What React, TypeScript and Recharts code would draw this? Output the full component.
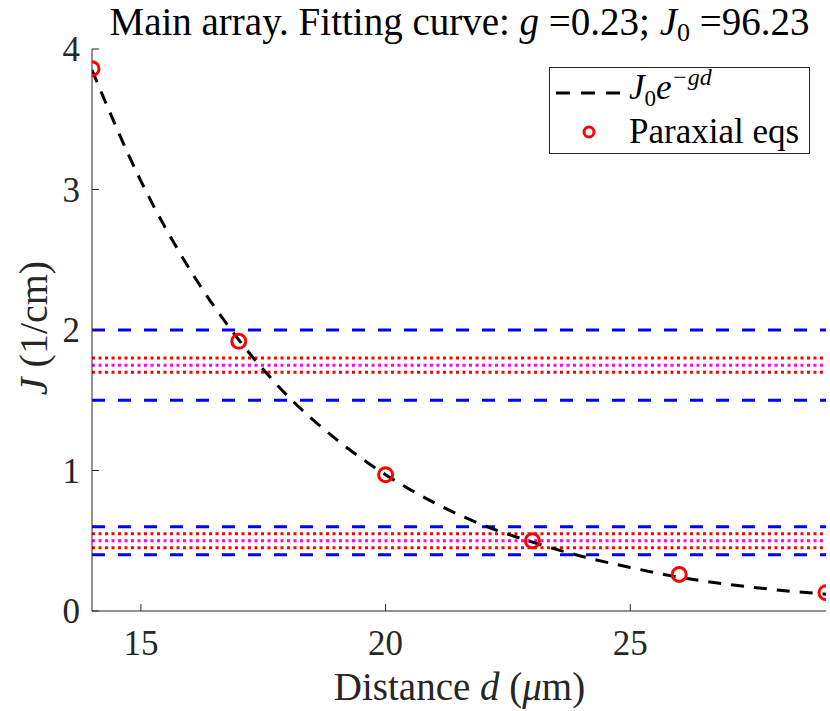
import {
  ComposedChart,
  Line,
  Scatter,
  XAxis,
  YAxis,
  ReferenceLine,
  Legend,
} from "recharts";

// fitted curve J0*exp(-g d)
const fitD = [14, 15, 16, 17, 18, 19, 20, 21, 22, 23, 24, 25, 26, 27, 28, 29];
const fitJ = [3.85, 3.06, 2.43, 1.93, 1.53, 1.22, 0.97, 0.77, 0.61, 0.49, 0.39, 0.31, 0.24, 0.19, 0.15, 0.12];

// paraxial equations points
const paraD = [14, 17, 20, 23, 26, 29];
const paraJ = [3.86, 1.92, 0.97, 0.5, 0.26, 0.13];

// horizontal bands
const blueLevels = [2.0, 1.5, 0.6, 0.4];
const redLevels = [1.8, 1.7, 0.55, 0.45];
const magentaLevels = [1.75, 0.5];

const xTicks = [15, 20, 25];
const yTicks = [0, 1, 2, 3, 4];

const fitData = fitD.map((d, i) => ({ d, J: fitJ[i] }));
const paraData = paraD.map((d, i) => ({ d, J: paraJ[i] }));

const FONT = "Liberation Serif, Times New Roman, DejaVu Serif, serif";
const AX = "#262626";
const TICK_LEN = 7;

const BottomTick = (props: any) => {
  const { x, y, payload } = props;
  return (
    <g>
      <line x1={x} y1={y} x2={x} y2={y - TICK_LEN} stroke={AX} strokeWidth={1} />
      <text x={x} y={y + 44} textAnchor="middle" fontFamily={FONT} fontSize={35} fill={AX}>
        {payload.value}
      </text>
    </g>
  );
};

const TopTick = (props: any) => {
  const { x, y } = props;
  return <line x1={x} y1={y} x2={x} y2={y + TICK_LEN} stroke={AX} strokeWidth={1} />;
};

const LeftTick = (props: any) => {
  const { x, y, payload } = props;
  return (
    <g>
      <line x1={x} y1={y} x2={x + TICK_LEN} y2={y} stroke={AX} strokeWidth={1} />
      <text x={x - 12} y={y + 12} textAnchor="end" fontFamily={FONT} fontSize={35} fill={AX}>
        {payload.value}
      </text>
    </g>
  );
};

const RightTick = (props: any) => {
  const { x, y } = props;
  return <line x1={x} y1={y} x2={x - TICK_LEN} y2={y} stroke={AX} strokeWidth={1} />;
};

const LegendBox = () => (
  <div
    style={{
      width: 261,
      height: 87,
      border: `1px solid ${AX}`,
      background: "#fff",
      boxSizing: "border-box",
      fontFamily: FONT,
      fontSize: 35,
      lineHeight: "40px",
      color: "#000",
      position: "relative",
    }}
  >
    <svg width={80} height={87} style={{ position: "absolute", left: 0, top: 0 }}>
      <line x1={6} y1={25} x2={71} y2={25} stroke="#000" strokeWidth={3} strokeDasharray="14 11" />
      <circle cx={39} cy={64} r={5} fill="none" stroke="#ff0000" strokeWidth={3} />
    </svg>
    <div style={{ position: "absolute", left: 79, top: 0, whiteSpace: "nowrap" }}>
      <i>J</i>
      <span style={{ fontSize: 23, position: "relative", top: 7 }}>0</span>
      <i>e</i>
      <span style={{ fontSize: 24, fontStyle: "italic", position: "relative", top: -14 }}>−gd</span>
    </div>
    <div style={{ position: "absolute", left: 79, top: 44, whiteSpace: "nowrap" }}>Paraxial eqs</div>
  </div>
);

const Circle = (props: any) => {
  const { cx, cy } = props;
  return <circle cx={cx} cy={cy} r={7} fill="none" stroke="#ff0000" strokeWidth={3} />;
};

export default function App() {
  return (
    <div style={{ position: "absolute", left: 0, top: 0, width: 830, height: 711, background: "#fff" }}>
      <div
        style={{
          position: "absolute",
          left: 92,
          width: 735,
          top: 0,
          height: 44,
          lineHeight: "44px",
          textAlign: "center",
          fontFamily: FONT,
          fontSize: 39,
          color: "#000",
          whiteSpace: "nowrap",
        }}
      >
        Main array. Fitting curve: <i>g</i> =0.23; <i>J</i>
        <span style={{ fontSize: 26, verticalAlign: -6, lineHeight: "20px" }}>0</span> =96.23
      </div>
      <ComposedChart
        width={830}
        height={711}
        margin={{ top: 49, right: 4, bottom: 70, left: 32 }}
      >
        <XAxis
          xAxisId="b"
          dataKey="d"
          type="number"
          domain={[14, 29]}
          ticks={xTicks}
          allowDataOverflow
          height={30}
          tickSize={0}
          tickMargin={0}
          tickLine={false}
          tick={<BottomTick />}
          axisLine={{ stroke: AX }}
        />
        <XAxis
          xAxisId="t"
          orientation="top"
          dataKey="d"
          type="number"
          domain={[14, 29]}
          ticks={xTicks}
          allowDataOverflow
          height={0}
          tickSize={0}
          tickMargin={0}
          tickLine={false}
          tick={<TopTick />}
          axisLine={{ stroke: AX }}
        />
        <YAxis
          yAxisId="l"
          type="number"
          domain={[0, 4]}
          ticks={yTicks}
          allowDataOverflow
          width={60}
          tickSize={0}
          tickMargin={0}
          tickLine={false}
          tick={<LeftTick />}
          axisLine={{ stroke: AX }}
        />
        <YAxis
          yAxisId="r"
          orientation="right"
          type="number"
          domain={[0, 4]}
          ticks={yTicks}
          allowDataOverflow
          width={0}
          tickSize={0}
          tickMargin={0}
          tickLine={false}
          tick={<RightTick />}
          axisLine={{ stroke: AX }}
        />
        {blueLevels.map((v) => (
          <ReferenceLine
            key={`b${v}`}
            xAxisId="b"
            yAxisId="l"
            y={v}
            stroke="#0000ff"
            strokeWidth={3}
            strokeDasharray="13 13"
          />
        ))}
        {redLevels.map((v) => (
          <ReferenceLine
            key={`r${v}`}
            xAxisId="b"
            yAxisId="l"
            y={v}
            stroke="#ff0000"
            strokeWidth={3}
            strokeDasharray="3 3.5"
          />
        ))}
        {magentaLevels.map((v) => (
          <ReferenceLine
            key={`m${v}`}
            xAxisId="b"
            yAxisId="l"
            y={v}
            stroke="#ff00ff"
            strokeWidth={3}
            strokeDasharray="3 3.5"
          />
        ))}
        <Line
          xAxisId="b"
          yAxisId="l"
          data={fitData}
          dataKey="J"
          type="monotone"
          stroke="#000"
          strokeWidth={3}
          strokeDasharray="13 10"
          dot={false}
          isAnimationActive={false}
          name="fit"
        />
        <Scatter
          xAxisId="b"
          yAxisId="l"
          data={paraData}
          dataKey="J"
          shape={<Circle />}
          isAnimationActive={false}
          name="Paraxial eqs"
        />
        <Legend
          layout="vertical"
          align="center"
          verticalAlign="middle"
          content={<LegendBox />}
          wrapperStyle={{ position: "absolute", left: 549, top: 67, width: 261, height: 87 }}
        />
      </ComposedChart>
      <div
        style={{
          position: "absolute",
          left: 92,
          width: 735,
          top: 666,
          lineHeight: "42px",
          textAlign: "center",
          fontFamily: FONT,
          fontSize: 39,
          color: AX,
          whiteSpace: "nowrap",
        }}
      >
        Distance <i>d</i> (<i>μ</i>m)
      </div>
      <div
        style={{
          position: "absolute",
          left: 34,
          top: 328,
          lineHeight: "42px",
          transform: "translate(-50%, -50%) rotate(-90deg)",
          fontFamily: FONT,
          fontSize: 40,
          color: AX,
          whiteSpace: "nowrap",
        }}
      >
        <i>J</i> (1/cm)
      </div>
    </div>
  );
}
